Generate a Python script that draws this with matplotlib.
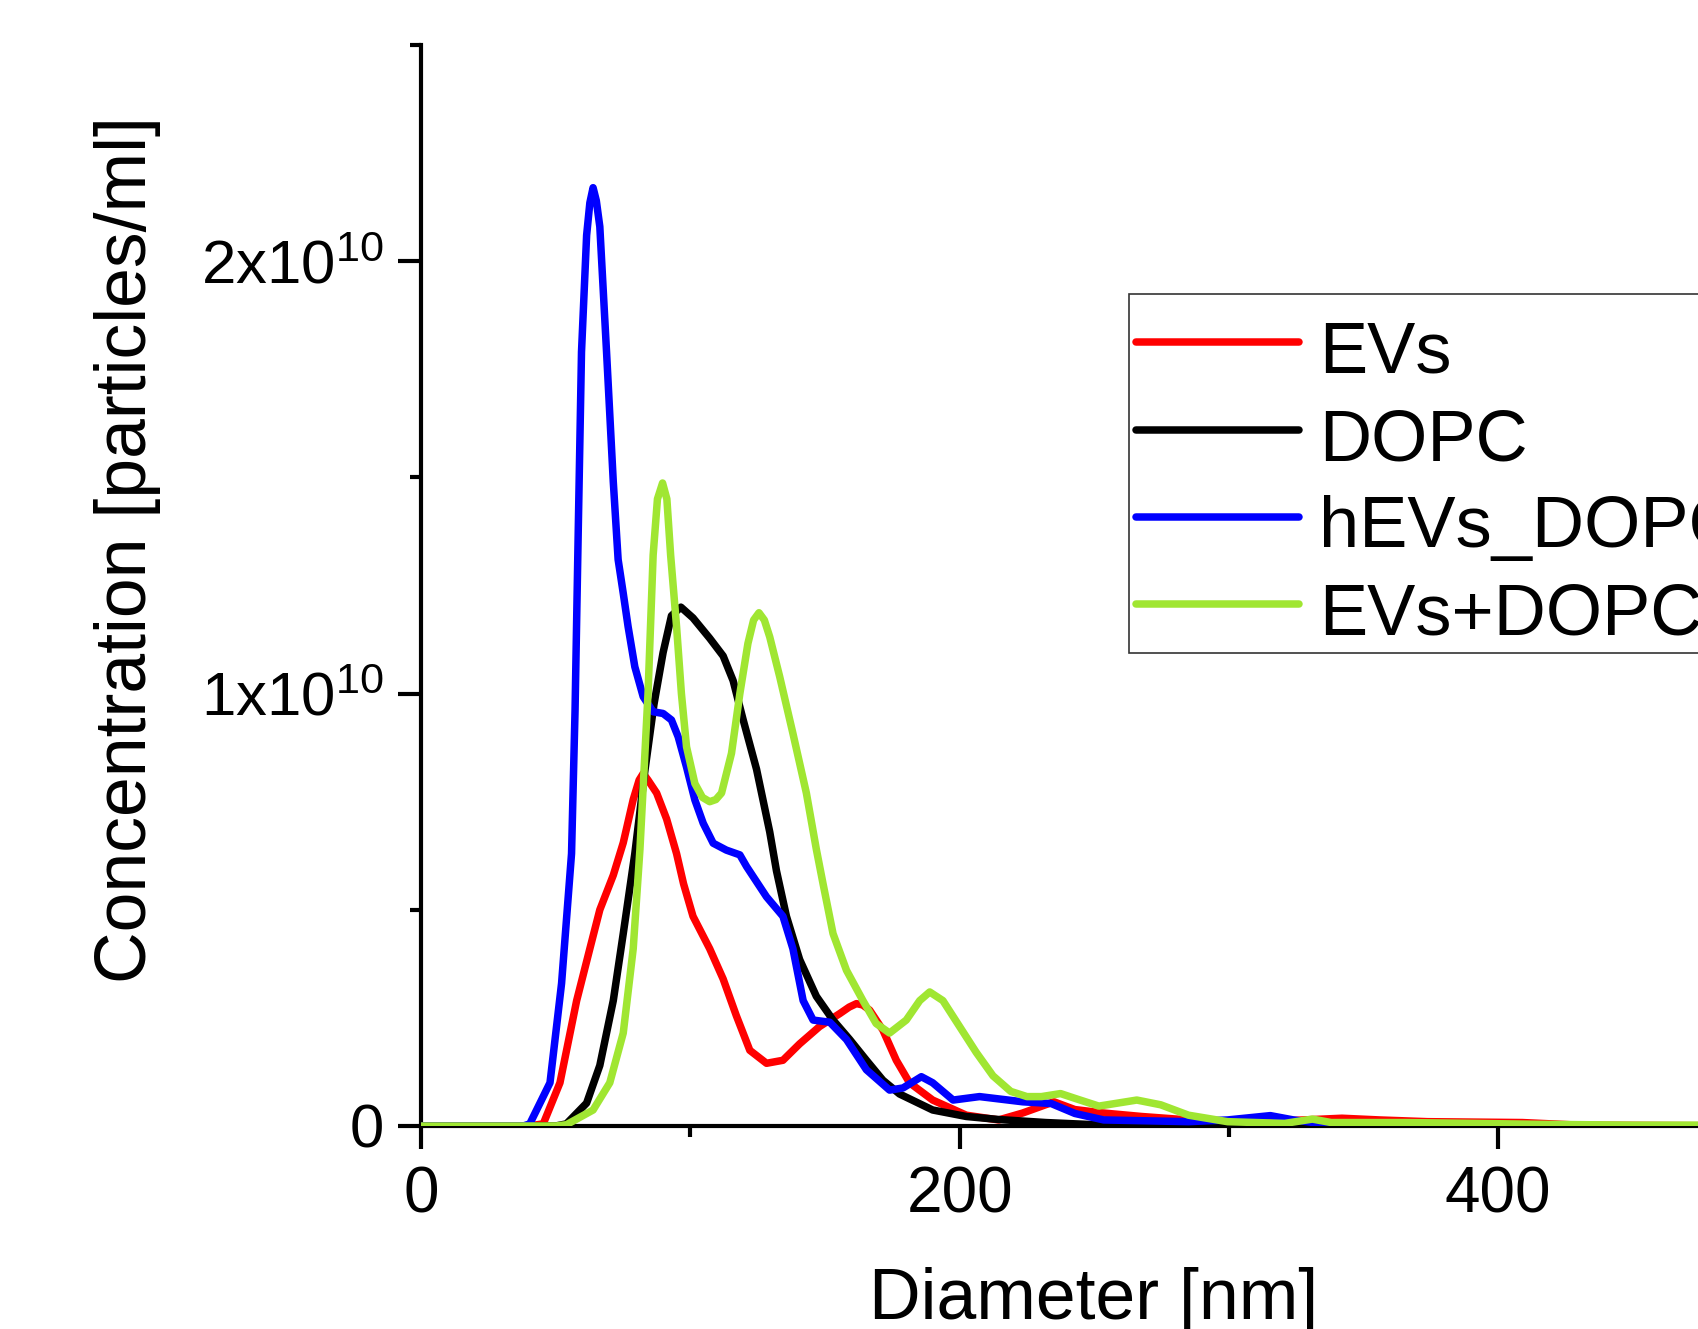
import matplotlib
matplotlib.use("Agg")
import matplotlib.pyplot as plt
from matplotlib.patches import Rectangle
from matplotlib.ticker import FixedLocator, FixedFormatter, MultipleLocator

plt.rcParams["font.family"] = ["Liberation Sans", "DejaVu Sans"]
plt.rcParams["mathtext.default"] = "regular"

# concentrations below are in units of 1e10 particles/ml
SCALE = 1e10

evs_x = [0, 40, 45.4, 51.6, 57.8, 62.7, 66.4, 71.4, 75.1, 78.8, 81, 82.5, 84.3, 87.5, 91.2,
         94.9, 97.5, 101, 107.2, 112.2, 117.1, 122.1, 128.3, 134.4, 140.6, 148, 155.5, 159,
         161.7, 164, 166.6, 171.5, 176.5, 181.4, 190, 202.5, 214.5, 223.4, 235, 242.8,
         253.5, 267.6, 285, 303, 320.7, 342, 356, 373.8, 409, 430, 500]
evs_y = [0, 0, 0.005, 0.10, 0.29, 0.41, 0.50, 0.58, 0.655, 0.755, 0.80, 0.815, 0.80, 0.77,
         0.71, 0.63, 0.56, 0.485, 0.41, 0.34, 0.255, 0.175, 0.145, 0.152, 0.19, 0.23, 0.26,
         0.275, 0.283, 0.28, 0.268, 0.222, 0.152, 0.10, 0.06, 0.025, 0.014, 0.03, 0.056,
         0.038, 0.03, 0.022, 0.014, 0.008, 0.012, 0.018, 0.014, 0.01, 0.008, 0.002, 0]

dopc_x = [0, 50, 54, 61.5, 66.4, 71.4, 75.1, 79.4, 83.1, 86.5, 89.9, 93, 96.5, 101, 107.2,
          112.2, 115.9, 119.6, 124.6, 129.5, 132, 135.7, 140.6, 146.8, 153, 159.2, 165.4,
          171.5, 177.7, 190, 202.5, 214.5, 232, 250, 270, 500]
dopc_y = [0, 0, 0.005, 0.053, 0.14, 0.29, 0.445, 0.63, 0.82, 0.975, 1.095, 1.18, 1.20, 1.175,
          1.128, 1.087, 1.03, 0.94, 0.825, 0.68, 0.59, 0.485, 0.385, 0.30, 0.245, 0.20,
          0.152, 0.106, 0.074, 0.037, 0.022, 0.015, 0.008, 0.003, 0, 0]

hevs_x = [0, 38, 40.4, 47.9, 52.2, 55.9, 57.2, 58.4, 59.6, 61.5, 62.7, 63.9, 65.1, 66.4,
          68.9, 71.4, 73.2, 75.1, 76.9, 79.4, 82.5, 86.2, 89.9, 93, 95.5, 98.6, 101.7,
          104.8, 108.5, 113.4, 118.4, 120.9, 128.3, 134.4, 138.1, 141.9, 145.6, 151.8, 158,
          165.4, 174, 179, 185.8, 190, 197.6, 207.4, 223.4, 234, 242.8, 253.5, 285, 299.5,
          315.4, 324, 335, 350, 500]
hevs_y = [0, 0, 0.005, 0.10, 0.33, 0.63, 0.96, 1.38, 1.79, 2.06, 2.135, 2.17, 2.14, 2.08,
          1.79, 1.49, 1.31, 1.232, 1.155, 1.062, 0.993, 0.958, 0.954, 0.939, 0.90, 0.83,
          0.754, 0.70, 0.654, 0.638, 0.627, 0.60, 0.53, 0.485, 0.41, 0.29, 0.245, 0.24,
          0.20, 0.13, 0.083, 0.088, 0.114, 0.10, 0.06, 0.068, 0.056, 0.052, 0.029, 0.014,
          0.01, 0.014, 0.024, 0.014, 0.005, 0, 0]

mix_x = [0, 50, 54, 63.9, 70.1, 75.1, 78.8, 81.3, 84.3, 86.2, 87.8, 89.7, 91.3, 92.7, 94.9,
         96.7, 98.6, 101.7, 104.5, 107.2, 109.5, 111.6, 115.3, 118.4, 121.4, 123.5, 125.5,
         127.5, 129.5, 133.2, 138.1, 143.1, 146.8, 149.3, 153, 158, 164.1, 169, 174, 180.2,
         185.2, 188.9, 193.8, 200, 206.2, 212.4, 219, 225, 230.4, 237.5, 242.8, 251.7,
         265.8, 274.7, 285, 299.5, 320.7, 331, 338, 365, 391.5, 414, 450, 500]
mix_y = [0, 0, 0.003, 0.037, 0.10, 0.215, 0.41, 0.64, 1.0, 1.32, 1.45, 1.487, 1.45, 1.32,
         1.155, 1.0, 0.877, 0.792, 0.76, 0.75, 0.755, 0.77, 0.862, 1.0, 1.116, 1.17, 1.187,
         1.17, 1.131, 1.039, 0.908, 0.77, 0.64, 0.56, 0.445, 0.36, 0.29, 0.237, 0.215,
         0.245, 0.29, 0.31, 0.29, 0.23, 0.17, 0.116, 0.08, 0.068, 0.068, 0.075, 0.064,
         0.046, 0.06, 0.049, 0.025, 0.01, 0.006, 0.016, 0.008, 0.008, 0.006, 0.004, 0.002,
         0.002]

series = [
    ("EVs", evs_x, evs_y, "#ff0000"),
    ("DOPC", dopc_x, dopc_y, "#000000"),
    ("hEVs_DOPC", hevs_x, hevs_y, "#0000ff"),
    ("EVs+DOPC", mix_x, mix_y, "#a0e632"),
]

y_tick_vals = [0, 1, 2]
y_tick_labels = ["0", r"1x10$^{10}$", r"2x10$^{10}$"]
x_tick_vals = [0, 200, 400]

W, H = 1699, 1329
fig = plt.figure(figsize=(W / 100, H / 100), dpi=100)
ax = fig.add_axes([421 / W, 1 - 1126 / H, 1346.5 / W, (1126 - 45) / H])

for name, xs, ys, col in series:
    ax.plot(xs, [v * SCALE for v in ys], color=col, lw=5.4, label=name,
            solid_capstyle="round", solid_joinstyle="round", zorder=3)

ax.set_xlim(0, 500)
ax.set_ylim(0, 2.5 * SCALE)

ax.spines["top"].set_visible(False)
ax.spines["right"].set_visible(False)
for s in ("left", "bottom"):
    ax.spines[s].set_linewidth(3)

ax.xaxis.set_major_locator(FixedLocator(x_tick_vals))
ax.xaxis.set_minor_locator(MultipleLocator(100))
ax.yaxis.set_major_locator(FixedLocator([v * SCALE for v in y_tick_vals]))
ax.yaxis.set_major_formatter(FixedFormatter(y_tick_labels))
ax.yaxis.set_minor_locator(MultipleLocator(0.5 * SCALE))

ax.tick_params(which="major", direction="out", length=16.5, width=3)
ax.tick_params(which="minor", direction="out", length=8, width=3)
ax.tick_params(axis="x", which="major", pad=12, labelsize=46)
ax.tick_params(axis="y", which="major", pad=10, labelsize=44.5)

fig.text(1094 / W, 1 - 1319 / H, "Diameter [nm]", fontsize=51.5, ha="center", va="baseline")
fig.text(128 / W, 1 - 550 / H, "Concentration [particles/ml]", fontsize=51.5,
         ha="center", va="center", rotation=90)

# legend entries without frame; box drawn separately in figure coords
box = Rectangle((1129 / W, 1 - 653 / H), 700 / W, (653 - 294) / H,
                transform=fig.transFigure, facecolor="white", edgecolor="#333333",
                lw=1.2, zorder=4, clip_on=False)
ax.add_patch(box)
leg = ax.legend(loc="upper left", bbox_to_anchor=(1136 / W, 1 - 312 / H),
                bbox_transform=fig.transFigure, fontsize=52, frameon=False,
                borderaxespad=0, borderpad=0, handlelength=2.25,
                handleheight=1.18, handletextpad=0.28, labelspacing=0.155)
leg.set_zorder(5)

fig.savefig("out.png", dpi=100)
